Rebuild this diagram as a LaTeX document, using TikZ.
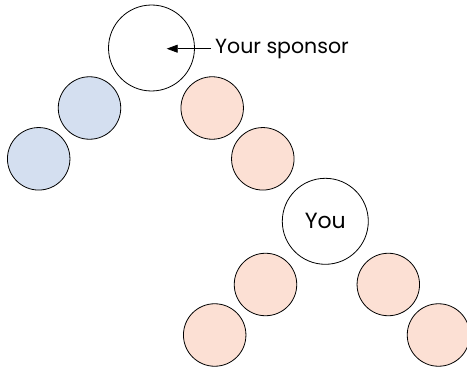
\documentclass[tikz,border=0pt]{standalone}
\usepackage{fontspec}
\setmainfont{Poppins}
\usetikzlibrary{arrows.meta}
\definecolor{bluefill}{HTML}{D4DFF0}
\definecolor{orangefill}{HTML}{FCE0D4}
\tikzset{
  big/.style={circle, draw=black, line width=0.8pt, fill=white, minimum size=86pt, inner sep=0pt, font=\fontsize{22}{26}\selectfont},
  small/.style={circle, draw=black, line width=0.8pt, minimum size=62.5pt, inner sep=0pt},
  bluec/.style={small, fill=bluefill},
  orc/.style={small, fill=orangefill},
  lbl/.style={anchor=west, inner sep=0pt, font=\fontsize{20.5}{24}\selectfont},
  arr/.style={-{Triangle[length=11pt,width=8pt]}, line width=0.8pt, shorten <=4pt}
}
\begin{document}
\begin{tikzpicture}[x=1pt,y=-1pt]
\useasboundingbox (0,0) rectangle (467,369);
\node[big] (sponsor) at (151.5,48) {};
\node[bluec] (b1) at (89.5,108) {};
\node[bluec] (b2) at (38.7,158.8) {};
\node[orc] (o1) at (212.2,108) {};
\node[orc] (o2) at (262.8,158.8) {};
\node[big] (you) at (325.3,221.3) {You};
\node[orc] (o3) at (265.5,284.5) {};
\node[orc] (o4) at (388.3,284.5) {};
\node[orc] (o5) at (214.7,335) {};
\node[orc] (o6) at (438.5,335) {};
\node[lbl] (txt) at (215,48.7) {Your sponsor};
\coordinate (tip) at (166.7,48.7);
\draw[arr] (txt.west) -- (tip);
\end{tikzpicture}
\end{document}
